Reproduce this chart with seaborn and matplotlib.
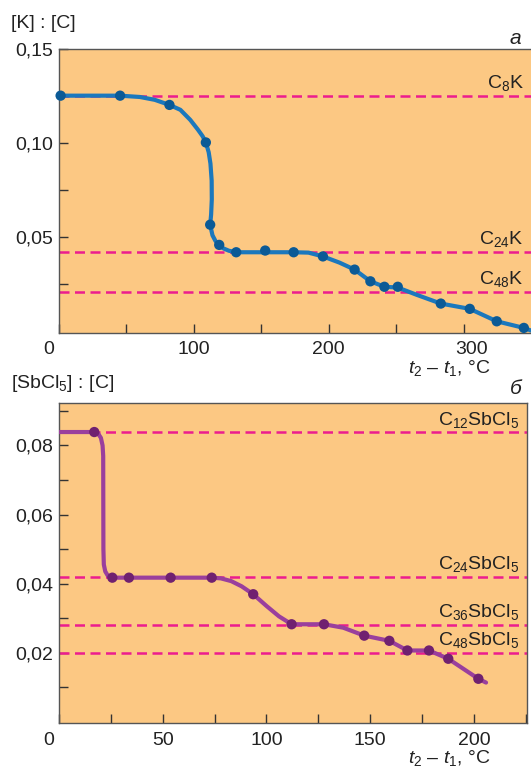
import matplotlib
matplotlib.use("Agg")
import matplotlib.pyplot as plt
import matplotlib.transforms as mtransforms
import seaborn as sns

# panel a: K intercalation
k_x = [1.2, 45.3, 81.9, 108.9, 112.1, 118.8, 131.4, 152.9, 174.0, 195.7,
       219.2, 230.9, 241.3, 251.2, 283.1, 304.6, 324.6, 344.7]
k_y = [0.125, 0.125, 0.1201, 0.1002, 0.0566, 0.0459, 0.042, 0.0429, 0.042, 0.0398,
       0.0328, 0.0266, 0.0237, 0.0237, 0.0148, 0.0120, 0.0054, 0.0019]
# smooth drawn curve
k_curve_x = [0, 1.2, 45.3, 60, 71, 81.9, 90, 97.3, 103, 106.5, 108.9, 111, 112.3,
             113.2, 113.3, 112.8, 112.1, 113.8, 116, 118.8, 122, 126, 131.4,
             152.9, 174.0, 185, 195.7, 208, 219.2, 230.9, 241.3, 251.2, 265,
             283.1, 304.6, 324.6, 344.7, 350]
k_curve_y = [0.125, 0.125, 0.125, 0.1243, 0.1228, 0.1201, 0.1175, 0.1122, 0.107,
             0.1035, 0.1002, 0.095, 0.089, 0.080, 0.070, 0.062, 0.0566, 0.051,
             0.048, 0.0459, 0.0440, 0.0428, 0.042, 0.042, 0.042, 0.0418, 0.0398,
             0.0365, 0.0328, 0.0266, 0.0237, 0.0233, 0.0195, 0.0148, 0.0120,
             0.0054, 0.0019, 0.0005]
k_levels = [0.125, 0.042, 0.021]
k_names = [r"C$_{8}$K", r"C$_{24}$K", r"C$_{48}$K"]

# panel b: SbCl5 intercalation
sb_x = [17.0, 25.7, 33.7, 53.8, 73.6, 93.6, 112.1, 127.7, 147.1, 159.2,
        167.9, 178.3, 187.6, 202.1]
sb_y = [0.0839, 0.0417, 0.0417, 0.0417, 0.0417, 0.0369, 0.0282, 0.0282,
        0.0249, 0.0234, 0.0206, 0.0206, 0.0182, 0.0124]
sb_curve_x = [0, 17.0, 18.8, 20.2, 21.0, 21.3, 21.4, 21.6, 22.3, 23.5, 25.7,
              33.7, 53.8, 73.6, 78, 83, 88, 93.6, 100, 106, 112.1, 127.7, 137,
              147.1, 159.2, 167.9, 178.3, 187.6, 202.1, 205.8]
sb_curve_y = [0.0839, 0.0839, 0.0835, 0.0822, 0.080, 0.077, 0.050, 0.0455,
              0.0435, 0.0423, 0.0417, 0.0417, 0.0417, 0.0417, 0.0415, 0.0407,
              0.0392, 0.0369, 0.0335, 0.0305, 0.0282, 0.0282, 0.0272, 0.0249,
              0.0234, 0.0206, 0.0206, 0.0182, 0.0124, 0.0113]
sb_levels = [0.0838, 0.042, 0.028, 0.020]
sb_names = [r"C$_{12}$SbCl$_5$", r"C$_{24}$SbCl$_5$", r"C$_{36}$SbCl$_5$", r"C$_{48}$SbCl$_5$"]

BG = "#FCC883"
DASH = "#EC1C8E"
SPINE = "#555555"
TXT = "#222222"

sns.set_style("ticks")
plt.rcParams["font.family"] = ["Liberation Sans", "DejaVu Sans"]
plt.rcParams["mathtext.fontset"] = "custom"
plt.rcParams["mathtext.rm"] = "Liberation Sans"
plt.rcParams["mathtext.it"] = "Liberation Sans:italic"
FS = 14

fig = plt.figure(figsize=(5.31, 7.71), dpi=100)
ax1 = fig.add_axes([59 / 531, 1 - 333 / 771, 472 / 531, (333 - 48.5) / 771])
ax2 = fig.add_axes([59 / 531, 1 - 723.3 / 771, (526.7 - 59) / 531, (723.3 - 402.7) / 771])


def style(ax):
    ax.set_facecolor(BG)
    for s in ax.spines.values():
        s.set_color(SPINE)
        s.set_linewidth(1.0)
    ax.tick_params(which="both", direction="in", length=6.5, width=1.0,
                   color="#333333", labelsize=FS, labelcolor=TXT)
    ax.tick_params(axis="x", which="both", pad=6)
    ax.tick_params(axis="y", which="both", pad=4)
    ax.set_xlabel("")
    ax.set_ylabel("")


def levels(ax, vals, names, xr):
    for v, n in zip(vals, names):
        ax.axhline(v, color=DASH, lw=1.8, ls=(0, (4, 2.2)), zorder=1)
        ax.text(xr, v, n, ha="right", va="bottom", fontsize=FS, color=TXT,
                transform=mtransforms.blended_transform_factory(ax.transAxes, ax.transData) +
                mtransforms.ScaledTranslation(0, 2 / 72, fig.dpi_scale_trans))


# top panel
sns.lineplot(x=k_curve_x, y=k_curve_y, sort=False, estimator=None, ax=ax1,
             color="#1B78BD", lw=3.0, zorder=3)
sns.scatterplot(x=k_x, y=k_y, ax=ax1, color="#0B5A96", s=55, edgecolor="none",
                zorder=4, clip_on=False)
levels(ax1, k_levels, k_names, 0.985)
ax1.set_xlim(0, 350)
ax1.set_ylim(-0.0008, 0.15)
ax1.set_xticks([0, 100, 200, 300])
ax1.set_xticks([50, 150, 250], minor=True)
ax1.set_yticks([0.05, 0.10, 0.15])
ax1.set_yticks([0.025, 0.075, 0.125], minor=True)
ax1.set_yticklabels(["0,05", "0,10", "0,15"])
ax1.set_xticklabels(["0", "100", "200", "300"])
style(ax1)
ax1.spines["right"].set_visible(False)

# bottom panel
sns.lineplot(x=sb_curve_x, y=sb_curve_y, sort=False, estimator=None, ax=ax2,
             color="#9A3F9D", lw=3.0, zorder=3)
sns.scatterplot(x=sb_x, y=sb_y, ax=ax2, color="#702170", s=55, edgecolor="none",
                zorder=4, clip_on=False)
levels(ax2, sb_levels, sb_names, 0.985)
ax2.set_xlim(0, 225.4)
ax2.set_ylim(-0.0005, 0.0924)
ax2.set_xticks([0, 50, 100, 150, 200])
ax2.set_xticks([25, 75, 125, 175, 225], minor=True)
ax2.set_yticks([0.02, 0.04, 0.06, 0.08])
ax2.set_yticks([0.01, 0.03, 0.05, 0.07, 0.09], minor=True)
ax2.set_yticklabels(["0,02", "0,04", "0,06", "0,08"])
ax2.set_xticklabels(["0", "50", "100", "150", "200"])
style(ax2)

# shift the "0" labels left of the corner, as in the original
for ax in (ax1, ax2):
    lab = ax.get_xticklabels()[0]
    lab.set_transform(lab.get_transform() +
                      mtransforms.ScaledTranslation(-10 / 100, 0, fig.dpi_scale_trans))
lab = ax1.get_xticklabels()[3]
lab.set_transform(lab.get_transform() +
                  mtransforms.ScaledTranslation(8 / 100, 0, fig.dpi_scale_trans))

# axis titles and panel letters
fig.text(11 / 531, 1 - 24 / 771, "[K] : [C]", fontsize=FS, va="center", ha="left", color=TXT)
fig.text(11 / 531, 1 - 384 / 771, r"[SbCl$_5$] : [C]", fontsize=FS, va="center", ha="left", color=TXT)
fig.text(491 / 531, 1 - 368 / 771, r"$t_2$ – $t_1$, °C", fontsize=FS, va="center", ha="right", color=TXT)
fig.text(491 / 531, 1 - 758 / 771, r"$t_2$ – $t_1$, °C", fontsize=FS, va="center", ha="right", color=TXT)
fig.text(521 / 531, 1 - 38 / 771, "а", fontsize=FS + 1, style="italic", va="center", ha="right", color=TXT)
fig.text(522 / 531, 1 - 389 / 771, "б", fontsize=FS + 1, style="italic", va="center", ha="right", color=TXT)

fig.savefig("out.png", dpi=100, facecolor="white")
